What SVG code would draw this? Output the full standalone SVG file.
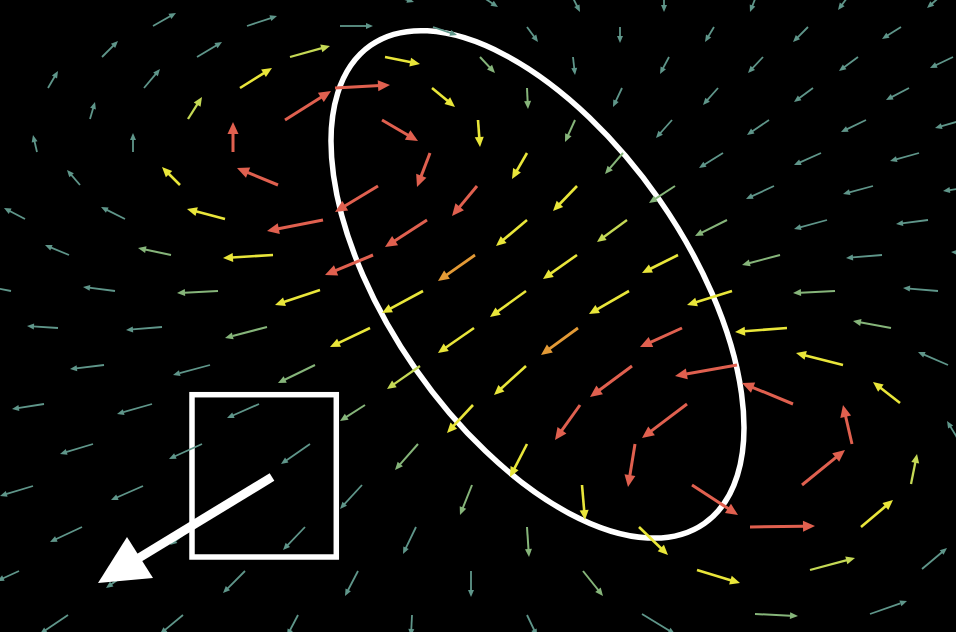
<svg xmlns="http://www.w3.org/2000/svg" width="956" height="632" viewBox="0 0 956 632">
<style>
#field path{fill:none;stroke-linecap:butt;stroke-dasharray:82 100}
.t{stroke:#5f968a;stroke-width:1.8;marker-end:url(#mt)}
.g{stroke:#86b57a;stroke-width:2;marker-end:url(#mg)}
.yg{stroke:#c5d955;stroke-width:2.3;marker-end:url(#myg)}
.y{stroke:#e9e63a;stroke-width:2.6;marker-end:url(#my)}
.o{stroke:#e39a36;stroke-width:2.8;marker-end:url(#mo)}
.r{stroke:#e0604f;stroke-width:3;marker-end:url(#mr)}
.w{fill:none;stroke:#ffffff;stroke-width:5.5}
</style>
<defs>
<marker id="mt" viewBox="-16 -8 18 16" refX="0" refY="0" markerWidth="18" markerHeight="16" markerUnits="userSpaceOnUse" orient="auto" overflow="visible"><path d="M-7,-3L0,0L-7,3Z" fill="#5f968a"/></marker>
<marker id="mg" viewBox="-16 -8 18 16" refX="0" refY="0" markerWidth="18" markerHeight="16" markerUnits="userSpaceOnUse" orient="auto" overflow="visible"><path d="M-8,-3.5L0,0L-8,3.5Z" fill="#86b57a"/></marker>
<marker id="myg" viewBox="-16 -8 18 16" refX="0" refY="0" markerWidth="18" markerHeight="16" markerUnits="userSpaceOnUse" orient="auto" overflow="visible"><path d="M-9,-4L0,0L-9,4Z" fill="#c5d955"/></marker>
<marker id="my" viewBox="-16 -8 18 16" refX="0" refY="0" markerWidth="18" markerHeight="16" markerUnits="userSpaceOnUse" orient="auto" overflow="visible"><path d="M-10,-4.5L0,0L-10,4.5Z" fill="#e9e63a"/></marker>
<marker id="mo" viewBox="-16 -8 18 16" refX="0" refY="0" markerWidth="18" markerHeight="16" markerUnits="userSpaceOnUse" orient="auto" overflow="visible"><path d="M-11,-5L0,0L-11,5Z" fill="#e39a36"/></marker>
<marker id="mr" viewBox="-16 -8 18 16" refX="0" refY="0" markerWidth="18" markerHeight="16" markerUnits="userSpaceOnUse" orient="auto" overflow="visible"><path d="M-12,-5.5L0,0L-12,5.5Z" fill="#e0604f"/></marker>
</defs>
<rect x="0" y="0" width="956" height="632" fill="#000000"/>
<g id="overlay-shapes">
<ellipse id="ellipse" class="w" cx="537.5" cy="284.4" rx="291.5" ry="148.4" transform="rotate(55.1 537.5 284.4)"/>
<rect id="box" class="w" x="192" y="394.7" width="144.3" height="162.3"/>
</g>
<g id="field">
<path class="t" pathLength="100" d="M388 -6L414 2"/>
<path class="t" pathLength="100" d="M478 -6L498 7"/>
<path class="t" pathLength="100" d="M571 -6L580 12"/>
<path class="t" pathLength="100" d="M664 -6L664 12"/>
<path class="t" pathLength="100" d="M757 -6L750 12"/>
<path class="t" pathLength="100" d="M850 -6L838 10"/>
<path class="t" pathLength="100" d="M943 -6L927 8"/>

<path class="t" pathLength="100" d="M153 26L176 13"/>
<path class="t" pathLength="100" d="M247 26L277 16"/>
<path class="t" pathLength="100" d="M340 26L373 26"/>
<path class="t" pathLength="100" d="M433 27L457 35"/>
<path class="t" pathLength="100" d="M527 27L538 42"/>
<path class="t" pathLength="100" d="M620 27L620 43"/>
<path class="t" pathLength="100" d="M714 27L705 42"/>
<path class="t" pathLength="100" d="M808 27L793 42"/>
<path class="t" pathLength="100" d="M901 27L882 39"/>

<path class="t" pathLength="100" d="M102 57L118 41"/>
<path class="t" pathLength="100" d="M197 57L222 42"/>
<path class="yg" pathLength="100" d="M290 57L330 46"/>
<path class="y" pathLength="100" d="M385 57L420 64"/>
<path class="g" pathLength="100" d="M480 57L495 73"/>
<path class="t" pathLength="100" d="M573 57L575 75"/>
<path class="t" pathLength="100" d="M669 57L660 74"/>
<path class="t" pathLength="100" d="M763 57L748 73"/>
<path class="t" pathLength="100" d="M858 57L839 71"/>
<path class="t" pathLength="100" d="M953 57L930 68"/>

<path class="t" pathLength="100" d="M48 88L58 71"/>
<path class="t" pathLength="100" d="M144 88L160 69"/>
<path class="y" pathLength="100" d="M240 88L272 68"/>
<path class="r" pathLength="100" d="M335 88L390 85"/>
<path class="y" pathLength="100" d="M432 88L455 107"/>
<path class="g" pathLength="100" d="M527 88L528 109"/>
<path class="t" pathLength="100" d="M622 88L613 107"/>
<path class="t" pathLength="100" d="M718 88L703 105"/>
<path class="t" pathLength="100" d="M813 88L794 102"/>
<path class="t" pathLength="100" d="M909 88L886 100"/>

<path class="t" pathLength="100" d="M90 119L95 102"/>
<path class="yg" pathLength="100" d="M188 119L202 97"/>
<path class="r" pathLength="100" d="M285 120L331 91"/>
<path class="r" pathLength="100" d="M382 120L418 141"/>
<path class="y" pathLength="100" d="M478 120L480 147"/>
<path class="g" pathLength="100" d="M575 120L565 142"/>
<path class="t" pathLength="100" d="M672 120L656 138"/>
<path class="t" pathLength="100" d="M769 120L747 135"/>
<path class="t" pathLength="100" d="M866 120L841 132"/>
<path class="t" pathLength="100" d="M963 120L935 128"/>

<path class="t" pathLength="100" d="M37 152L33 135"/>
<path class="t" pathLength="100" d="M133 152L133 133"/>
<path class="r" pathLength="100" d="M233 152L233 122"/>
<path class="r" pathLength="100" d="M430 153L417 187"/>
<path class="y" pathLength="100" d="M527 153L512 179"/>
<path class="g" pathLength="100" d="M623 153L605 174"/>
<path class="t" pathLength="100" d="M723 153L699 168"/>
<path class="t" pathLength="100" d="M821 153L794 165"/>
<path class="t" pathLength="100" d="M919 153L890 161"/>

<path class="t" pathLength="100" d="M80 185L67 170"/>
<path class="y" pathLength="100" d="M180 185L162 167"/>
<path class="r" pathLength="100" d="M278 185L237 168"/>
<path class="r" pathLength="100" d="M378 186L335 212"/>
<path class="r" pathLength="100" d="M477 186L452 216"/>
<path class="y" pathLength="100" d="M577 186L553 211"/>
<path class="g" pathLength="100" d="M675 186L649 203"/>
<path class="t" pathLength="100" d="M774 186L746 199"/>
<path class="t" pathLength="100" d="M873 186L843 194"/>
<path class="t" pathLength="100" d="M972 187L943 191"/>

<path class="t" pathLength="100" d="M25 219L4 208"/>
<path class="t" pathLength="100" d="M125 219L101 207"/>
<path class="y" pathLength="100" d="M225 219L187 209"/>
<path class="r" pathLength="100" d="M323 220L267 231"/>
<path class="r" pathLength="100" d="M427 220L385 247"/>
<path class="y" pathLength="100" d="M527 220L496 246"/>
<path class="yg" pathLength="100" d="M627 220L597 242"/>
<path class="g" pathLength="100" d="M727 220L695 236"/>
<path class="t" pathLength="100" d="M827 220L794 229"/>
<path class="t" pathLength="100" d="M928 220L896 224"/>

<path class="t" pathLength="100" d="M69 255L45 245"/>
<path class="g" pathLength="100" d="M171 255L138 248"/>
<path class="y" pathLength="100" d="M273 255L223 258"/>
<path class="r" pathLength="100" d="M373 255L325 275"/>
<path class="o" pathLength="100" d="M475 255L438 281"/>
<path class="y" pathLength="100" d="M577 255L543 279"/>
<path class="y" pathLength="100" d="M678 255L642 273"/>
<path class="g" pathLength="100" d="M780 255L742 265"/>
<path class="t" pathLength="100" d="M882 255L846 258"/>
<path class="t" pathLength="100" d="M985 254L951 252"/>

<path class="t" pathLength="100" d="M11 291L-20 285"/>
<path class="t" pathLength="100" d="M115 291L83 287"/>
<path class="g" pathLength="100" d="M218 291L177 293"/>
<path class="y" pathLength="100" d="M320 290L275 305"/>
<path class="y" pathLength="100" d="M423 291L382 313"/>
<path class="y" pathLength="100" d="M526 291L490 317"/>
<path class="y" pathLength="100" d="M629 291L589 314"/>
<path class="y" pathLength="100" d="M732 291L687 305"/>
<path class="g" pathLength="100" d="M835 291L793 293"/>
<path class="t" pathLength="100" d="M938 291L903 288"/>

<path class="t" pathLength="100" d="M58 328L27 326"/>
<path class="t" pathLength="100" d="M162 327L126 330"/>
<path class="g" pathLength="100" d="M267 327L225 338"/>
<path class="y" pathLength="100" d="M370 328L330 347"/>
<path class="y" pathLength="100" d="M474 328L438 353"/>
<path class="o" pathLength="100" d="M578 328L541 355"/>
<path class="r" pathLength="100" d="M682 328L640 347"/>
<path class="y" pathLength="100" d="M787 328L735 332"/>
<path class="g" pathLength="100" d="M891 328L853 321"/>

<path class="t" pathLength="100" d="M104 365L70 369"/>
<path class="t" pathLength="100" d="M210 365L173 375"/>
<path class="g" pathLength="100" d="M315 365L278 383"/>
<path class="yg" pathLength="100" d="M420 366L387 389"/>
<path class="y" pathLength="100" d="M526 366L494 395"/>
<path class="r" pathLength="100" d="M632 366L590 397"/>
<path class="r" pathLength="100" d="M737 365L675 376"/>
<path class="y" pathLength="100" d="M843 365L796 353"/>
<path class="t" pathLength="100" d="M948 365L918 352"/>

<path class="t" pathLength="100" d="M44 404L12 409"/>
<path class="t" pathLength="100" d="M152 404L117 414"/>
<path class="t" pathLength="100" d="M259 404L227 418"/>
<path class="g" pathLength="100" d="M365 405L340 421"/>
<path class="y" pathLength="100" d="M473 405L447 433"/>
<path class="r" pathLength="100" d="M580 405L555 440"/>
<path class="r" pathLength="100" d="M687 404L642 438"/>
<path class="r" pathLength="100" d="M793 404L742 383"/>
<path class="y" pathLength="100" d="M900 403L873 382"/>

<path class="t" pathLength="100" d="M93 444L60 454"/>
<path class="t" pathLength="100" d="M202 444L169 459"/>
<path class="t" pathLength="100" d="M310 444L281 464"/>
<path class="g" pathLength="100" d="M418 444L395 470"/>
<path class="y" pathLength="100" d="M527 444L510 477"/>
<path class="r" pathLength="100" d="M635 444L628 487"/>
<path class="r" pathLength="100" d="M852 444L843 405"/>
<path class="t" pathLength="100" d="M961 444L947 421"/>

<path class="t" pathLength="100" d="M33 486L0 496"/>
<path class="t" pathLength="100" d="M143 486L111 500"/>
<path class="t" pathLength="100" d="M253 486L225 505"/>
<path class="t" pathLength="100" d="M362 485L340 509"/>
<path class="g" pathLength="100" d="M472 485L460 515"/>
<path class="y" pathLength="100" d="M582 485L585 520"/>
<path class="r" pathLength="100" d="M692 485L738 515"/>
<path class="r" pathLength="100" d="M802 485L845 450"/>
<path class="yg" pathLength="100" d="M911 484L917 454"/>

<path class="t" pathLength="100" d="M82 527L50 542"/>
<path class="t" pathLength="100" d="M193 527L170 545"/>
<path class="t" pathLength="100" d="M305 527L283 550"/>
<path class="t" pathLength="100" d="M416 527L403 554"/>
<path class="g" pathLength="100" d="M527 527L529 557"/>
<path class="y" pathLength="100" d="M639 527L668 555"/>
<path class="r" pathLength="100" d="M750 527L815 526"/>
<path class="y" pathLength="100" d="M861 527L893 500"/>

<path class="t" pathLength="100" d="M19 571L-3 581"/>
<path class="t" pathLength="100" d="M130 571L106 588"/>
<path class="t" pathLength="100" d="M245 571L223 593"/>
<path class="t" pathLength="100" d="M358 571L345 596"/>
<path class="t" pathLength="100" d="M471 571L471 597"/>
<path class="g" pathLength="100" d="M583 571L603 596"/>
<path class="y" pathLength="100" d="M697 570L740 583"/>
<path class="yg" pathLength="100" d="M810 570L855 558"/>
<path class="t" pathLength="100" d="M922 569L947 548"/>

<path class="t" pathLength="100" d="M68 615L40 634"/>
<path class="t" pathLength="100" d="M183 615L160 634"/>
<path class="t" pathLength="100" d="M298 615L287 636"/>
<path class="t" pathLength="100" d="M412 615L411 636"/>
<path class="t" pathLength="100" d="M527 615L537 636"/>
<path class="t" pathLength="100" d="M642 614L675 634"/>
<path class="g" pathLength="100" d="M755 614L798 616"/>
<path class="t" pathLength="100" d="M870 614L907 601"/>
</g>
<g id="big-arrow">
<line x1="272" y1="477" x2="138" y2="558.5" stroke="#ffffff" stroke-width="9"/>
<polygon points="127,537 98,583 153,578" fill="#ffffff"/>
</g>
</svg>
